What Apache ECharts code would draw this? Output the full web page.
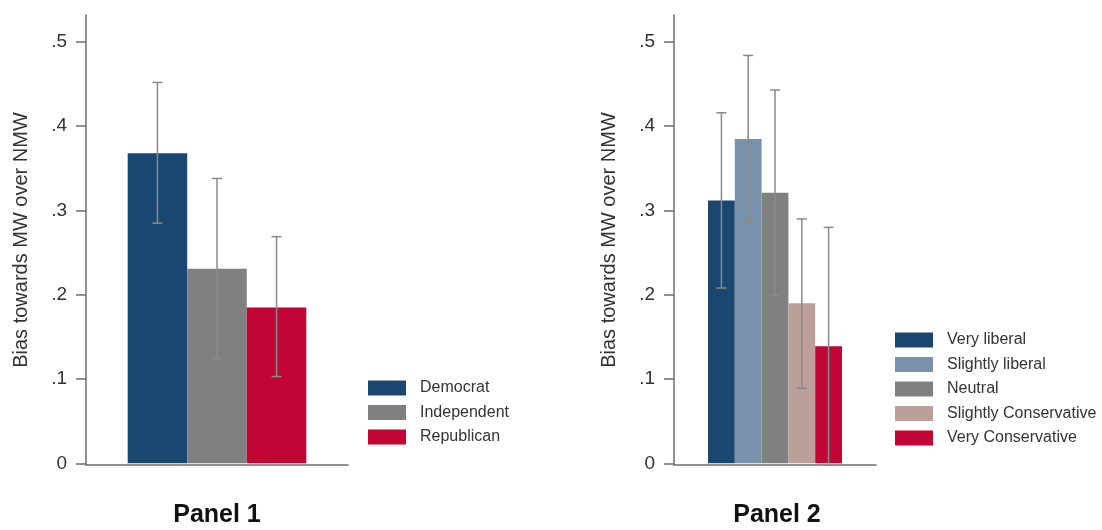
<!DOCTYPE html>
<html><head><meta charset="utf-8">
<script src="https://cdn.jsdelivr.net/npm/echarts@6/dist/echarts.min.js"></script>
<style>html,body{margin:0;padding:0;background:#fff}#c{width:1102px;height:530px}</style>
</head><body><div id="c"></div>
<script>
// ---- data ----
const partyNames = ['Democrat', 'Independent', 'Republican'];
const partyValues = [0.368, 0.231, 0.185];
const partyLow = [0.285, 0.124, 0.103];
const partyHigh = [0.452, 0.338, 0.269];
const partyColors = ['#1a476f', '#808080', '#c10534'];

const ideologyNames = ['Very liberal', 'Slightly liberal', 'Neutral', 'Slightly Conservative', 'Very Conservative'];
const ideologyValues = [0.312, 0.385, 0.321, 0.190, 0.139];
const ideologyLow = [0.208, 0.286, 0.199, 0.089, -0.002];
const ideologyHigh = [0.416, 0.484, 0.443, 0.290, 0.280];
const ideologyColors = ['#1a476f', '#7892ab', '#808080', '#bb9f98', '#c10534'];

const yTicks = [0, 0.1, 0.2, 0.3, 0.4, 0.5];
const yTitle = 'Bias towards MW over NMW';
const panelTitles = ['Panel 1', 'Panel 2'];

// ---- chart ----
const FONT = '"Liberation Sans", Arial, Helvetica, sans-serif';
const AXIS_COLOR = '#6e6e6e';
const ERR_COLOR = '#8a8a8a';

function yAxisCfg(gridIndex) {
  return {
    type: 'value', gridIndex, min: -0.002, max: 0.532,
    axisLine: { show: true, onZero: false, lineStyle: { color: AXIS_COLOR, width: 1.5 } },
    axisTick: { show: true, length: 10, customValues: yTicks, lineStyle: { color: AXIS_COLOR, width: 1.5 } },
    axisLabel: {
      customValues: yTicks, margin: 19, fontSize: 19, color: '#333', fontFamily: FONT,
      formatter: v => (Math.abs(v) < 1e-9 ? '0' : (+v).toFixed(1).replace(/^0/, ''))
    },
    splitLine: { show: false },
    name: yTitle, nameLocation: 'middle', nameRotate: 90, nameGap: 55,
    nameTextStyle: { fontSize: 20, color: '#333', fontFamily: FONT }
  };
}
function xAxisCfg(gridIndex, min, max) {
  return {
    type: 'value', gridIndex, min, max,
    axisLine: { show: true, onZero: false, lineStyle: { color: AXIS_COLOR, width: 1.5 } },
    axisTick: { show: false }, axisLabel: { show: false }, splitLine: { show: false }
  };
}
function errRender(params, api) {
  const x = api.value(0);
  const lo = api.coord([x, api.value(1)]);
  const hi = api.coord([x, api.value(2)]);
  const hw = 5;
  const style = { stroke: ERR_COLOR, lineWidth: 1.5 };
  return {
    type: 'group', children: [
      { type: 'line', shape: { x1: lo[0], y1: lo[1], x2: hi[0], y2: hi[1] }, style },
      { type: 'line', shape: { x1: lo[0] - hw, y1: lo[1], x2: lo[0] + hw, y2: lo[1] }, style },
      { type: 'line', shape: { x1: hi[0] - hw, y1: hi[1], x2: hi[0] + hw, y2: hi[1] }, style }
    ]
  };
}

const series = [];
partyNames.forEach((n, i) => {
  series.push({ type: 'bar', name: n, xAxisIndex: 0, yAxisIndex: 0, barWidth: 59.5, stack: 'p1',
    itemStyle: { color: partyColors[i] }, data: [[i + 1, partyValues[i]]], silent: true });
});
ideologyNames.forEach((n, i) => {
  series.push({ type: 'bar', name: n, xAxisIndex: 1, yAxisIndex: 1, barWidth: 26.8, stack: 'p2',
    itemStyle: { color: ideologyColors[i] }, data: [[i + 1, ideologyValues[i]]], silent: true });
});
series.push({ type: 'custom', name: 'ci1', xAxisIndex: 0, yAxisIndex: 0, z: 5, silent: true,
  renderItem: errRender, data: partyNames.map((n, i) => [i + 1, partyLow[i], partyHigh[i]]) });
series.push({ type: 'custom', name: 'ci2', xAxisIndex: 1, yAxisIndex: 1, z: 5, silent: true,
  renderItem: errRender, data: ideologyNames.map((n, i) => [i + 1, ideologyLow[i], ideologyHigh[i]]) });

const legendBase = {
  orient: 'vertical', icon: 'rect', itemWidth: 38, itemHeight: 15, itemGap: 8.5,
  selectedMode: false, padding: 0,
  textStyle: { fontSize: 16, color: '#333', fontFamily: FONT, padding: [0, 0, 0, 9] }
};

const chart = echarts.init(document.getElementById('c'), null, { renderer: 'canvas' });
chart.setOption({
  backgroundColor: '#fff',
  animation: false,
  title: [
    { text: panelTitles[0], left: 217, top: 503, textAlign: 'center', padding: 0,
      textStyle: { fontSize: 25, fontWeight: 'bold', color: '#111', fontFamily: FONT } },
    { text: panelTitles[1], left: 777, top: 503, textAlign: 'center', padding: 0,
      textStyle: { fontSize: 25, fontWeight: 'bold', color: '#111', fontFamily: FONT } }
  ],
  grid: [
    { left: 86, top: 15, width: 262, height: 450 },
    { left: 674, top: 15, width: 202, height: 450 }
  ],
  xAxis: [xAxisCfg(0, -0.2, 4.2), xAxisCfg(1, -0.77, 6.77)],
  yAxis: [yAxisCfg(0), yAxisCfg(1)],
  legend: [
    Object.assign({}, legendBase, { left: 368, top: 380, data: partyNames }),
    Object.assign({}, legendBase, { left: 895, top: 332, data: ideologyNames })
  ],
  series
});
</script>
</body></html>
